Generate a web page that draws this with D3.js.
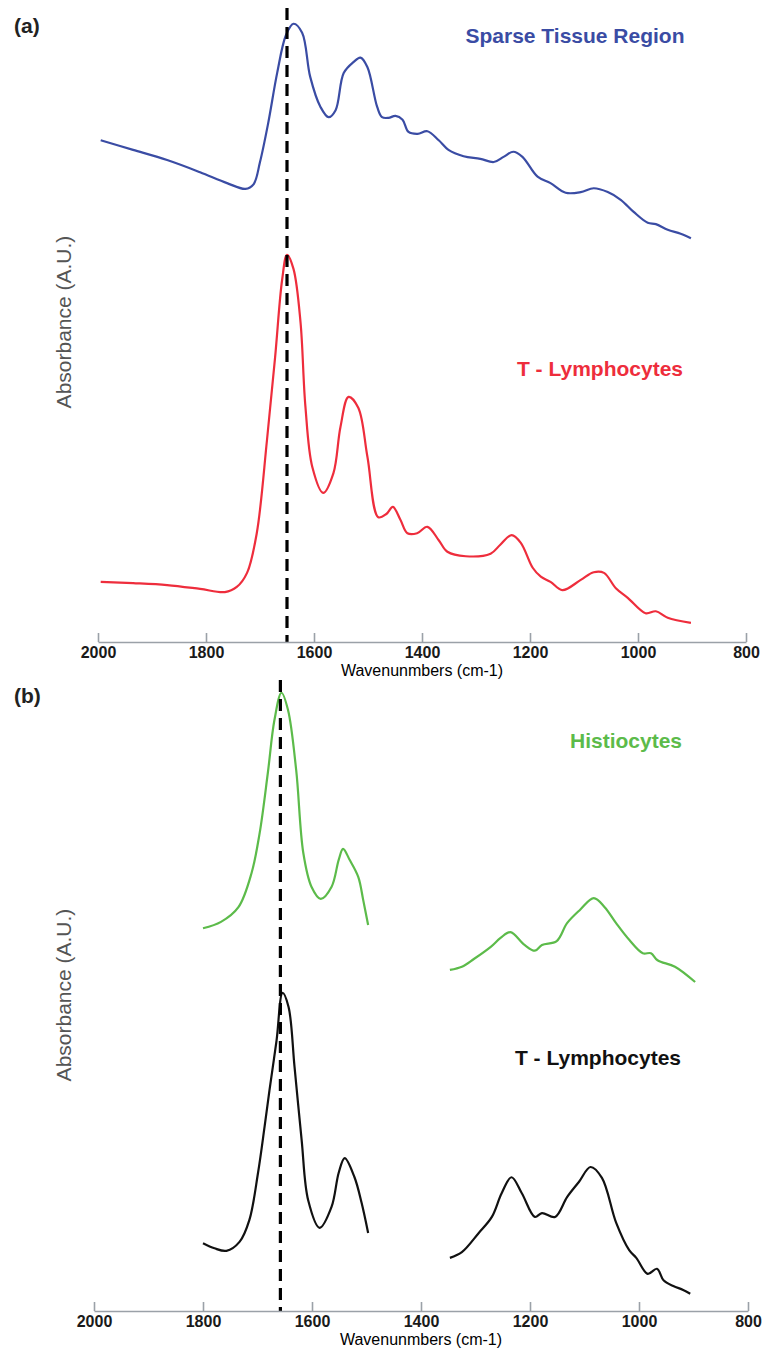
<!DOCTYPE html>
<html>
<head>
<meta charset="utf-8">
<script src="https://cdn.jsdelivr.net/npm/d3@7"></script>
<style>
  body{margin:0;background:#fff;}
  svg{display:block;font-family:"Liberation Sans",Arial,sans-serif;}
</style>
</head>
<body>
<svg id="drawing_region"></svg>
<script>
// tick labels of both wavenumber axes
const tick_values = [2000,1800,1600,1400,1200,1000,800]

// (a) sparse tissue region
const sparse_wn  = [1995,1935,1872,1811,1761,1727,1712,1700,1685,1668,1652,1638,1622,1607,1588,1573,1560,1545,1527,1514,1501,1483,1474,1462,1449,1436,1425,1408,1390,1369,1351,1323,1292,1267,1249,1231,1214,1186,1162,1134,1106,1082,1056,1032,1008,982,967,945,921,902]
const sparse_abs = [7.84,7.69,7.53,7.34,7.17,7.08,7.15,7.50,8.10,8.90,9.48,9.66,9.52,8.83,8.36,8.20,8.31,8.89,9.06,9.13,8.98,8.36,8.20,8.19,8.22,8.16,7.97,7.94,7.98,7.84,7.69,7.59,7.55,7.50,7.58,7.66,7.58,7.27,7.17,7.02,7.03,7.09,7.03,6.91,6.72,6.55,6.53,6.44,6.38,6.31]

// (a) T-lymphocytes
const tlymA_wn  = [1995,1935,1872,1811,1765,1743,1724,1706,1687,1672,1659,1650,1638,1625,1616,1603,1583,1564,1551,1536,1518,1501,1481,1466,1454,1440,1427,1409,1390,1369,1353,1319,1273,1255,1234,1217,1195,1180,1162,1140,1106,1082,1063,1041,1019,986,967,945,902]
const tlymA_abs = [0.94,0.92,0.89,0.83,0.78,0.86,1.08,1.70,3.16,4.45,5.66,6.05,5.83,5.00,3.69,2.73,2.33,2.64,3.36,3.83,3.66,2.89,1.95,2.00,2.11,1.91,1.70,1.70,1.80,1.59,1.41,1.34,1.38,1.52,1.67,1.55,1.16,1.02,0.94,0.81,0.97,1.09,1.08,0.84,0.69,0.45,0.48,0.38,0.30]

// (b) histiocytes (two segments, null = gap)
const histio_wn  = [1800,1767,1735,1711,1696,1681,1669,1656,1644,1629,1616,1601,1584,1564,1551,1543,1531,1515,1506,1497,1420,1347,1325,1303,1272,1254,1236,1210,1191,1178,1151,1132,1108,1083,1063,1042,1018,993,978,966,934,897]
const histio_abs = [5.98,6.08,6.31,6.84,7.47,8.41,9.23,9.66,9.39,8.45,7.16,6.63,6.44,6.63,7.05,7.22,7.05,6.78,6.42,6.03,null,5.33,5.38,5.50,5.69,5.83,5.92,5.72,5.63,5.72,5.78,6.06,6.27,6.45,6.31,6.06,5.80,5.59,5.59,5.48,5.38,5.14]

// (b) T-lymphocytes (two segments, null = gap)
const tlymB_wn  = [1800,1779,1757,1733,1715,1699,1687,1678,1665,1654,1643,1632,1619,1607,1586,1564,1551,1540,1522,1509,1497,1420,1347,1325,1294,1270,1252,1234,1215,1191,1178,1154,1132,1110,1089,1068,1042,1018,1005,984,967,955,937,919,906]
const tlymB_abs = [1.06,0.98,0.94,1.08,1.42,2.16,2.88,3.45,4.23,4.97,4.75,3.81,2.67,1.73,1.30,1.63,2.16,2.39,2.09,1.69,1.22,null,0.83,0.92,1.22,1.47,1.84,2.09,1.84,1.47,1.53,1.47,1.78,2.02,2.25,2.08,1.38,0.95,0.83,0.58,0.66,0.48,0.39,0.33,0.27]

// amide I marker lines
const marker_a = 1650
const marker_b = 1658

const zip = (wn,ab)=>wn.map((w,i)=>({wn:w,abs:ab[i]}))

class Spectrum_panel{
    constructor(config,series){
        this.config = config
        this.series = series
        this.init()
    }
    init(){
        let self = this
        const c = self.config
        self.svg = d3.select(c.parent)
        self.g = self.svg.append("g")

        self.xscale = d3.scaleLinear()
            .domain([2000,800])
            .range([c.x0,c.x1])
        self.yscale = d3.scaleLinear()
            .domain([0,10])
            .range([c.axis_y,c.axis_y-640])

        self.xaxis = d3.axisBottom(self.xscale)
            .tickValues(tick_values)
            .tickSizeInner(-9)
            .tickSizeOuter(0)
            .tickPadding(5)
            .tickFormat(d3.format("d"))
    }
    render(){
        let self = this
        const c = self.config

        const line = d3.line()
            .defined(d=>d.abs!=null)
            .x(d=>self.xscale(d.wn))
            .y(d=>self.yscale(d.abs))
            .curve(d3.curveCatmullRom.alpha(0.5))

        self.g.selectAll("path.spec")
            .data(self.series)
            .enter()
            .append("path")
            .attr("class","spec")
            .attr("d",d=>line(d.values))
            .attr("fill","none")
            .attr("stroke",d=>d.color)
            .attr("stroke-width",2.2)
            .attr("stroke-linejoin","round")

        self.g.selectAll("text.name")
            .data(self.series)
            .enter()
            .append("text")
            .attr("class","name")
            .attr("x",d=>d.label_x)
            .attr("y",d=>d.label_y)
            .attr("text-anchor","middle")
            .attr("font-size","21px")
            .attr("font-weight","bold")
            .attr("fill",d=>d.color)
            .text(d=>d.name)

        // dashed marker
        self.g.append("line")
            .attr("x1",self.xscale(c.marker))
            .attr("x2",self.xscale(c.marker))
            .attr("y1",c.marker_top)
            .attr("y2",c.axis_y)
            .attr("stroke","#000")
            .attr("stroke-width",3.2)
            .attr("stroke-dasharray","12,7")

        const ax = self.g.append("g")
            .attr("transform",`translate(0,${c.axis_y})`)
            .call(self.xaxis)
        ax.select(".domain").attr("stroke","#9ba1a8").attr("stroke-width",1.6)
        ax.selectAll(".tick line").attr("stroke","#9ba1a8").attr("stroke-width",1.6)
        ax.selectAll(".tick text")
            .attr("font-size","16px")
            .attr("font-weight","bold")
            .attr("font-family","'Liberation Sans',Arial,sans-serif")
            .attr("fill","#1a1a1a")

        self.g.append("text")
            .attr("x",(c.x0+c.x1)/2)
            .attr("y",c.axis_y+34)
            .attr("text-anchor","middle")
            .attr("font-size","16px")
            .attr("fill","#000")
            .text("Wavenunmbers (cm-1)")

        self.g.append("text")
            .attr("transform",`translate(71,${c.ylabel_y}) rotate(-90)`)
            .attr("text-anchor","middle")
            .attr("font-size","21px")
            .attr("fill","#555")
            .text("Absorbance (A.U.)")

        self.g.append("text")
            .attr("x",14)
            .attr("y",c.tag_y)
            .attr("font-size","21px")
            .attr("font-weight","bold")
            .attr("fill","#222")
            .text(c.tag)
    }
}

d3.select("#drawing_region")
    .attr("width",763)
    .attr("height",1349)

const panel_a = new Spectrum_panel({
    parent:"#drawing_region", x0:98, x1:746, axis_y:642,
    marker:marker_a, marker_top:8, ylabel_y:322, tag:"(a)", tag_y:33
},[
    {name:"Sparse Tissue Region", color:"#3a4ca4", values:zip(sparse_wn,sparse_abs), label_x:575, label_y:43},
    {name:"T - Lymphocytes", color:"#ee2d3c", values:zip(tlymA_wn,tlymA_abs), label_x:600, label_y:376}
])
panel_a.render()

const panel_b = new Spectrum_panel({
    parent:"#drawing_region", x0:94, x1:748, axis_y:1311,
    marker:marker_b, marker_top:680, ylabel_y:995, tag:"(b)", tag_y:703
},[
    {name:"Histiocytes", color:"#5cbb4a", values:zip(histio_wn,histio_abs), label_x:626, label_y:748},
    {name:"T - Lymphocytes", color:"#111", values:zip(tlymB_wn,tlymB_abs), label_x:598, label_y:1065}
])
panel_b.render()
</script>
</body>
</html>
